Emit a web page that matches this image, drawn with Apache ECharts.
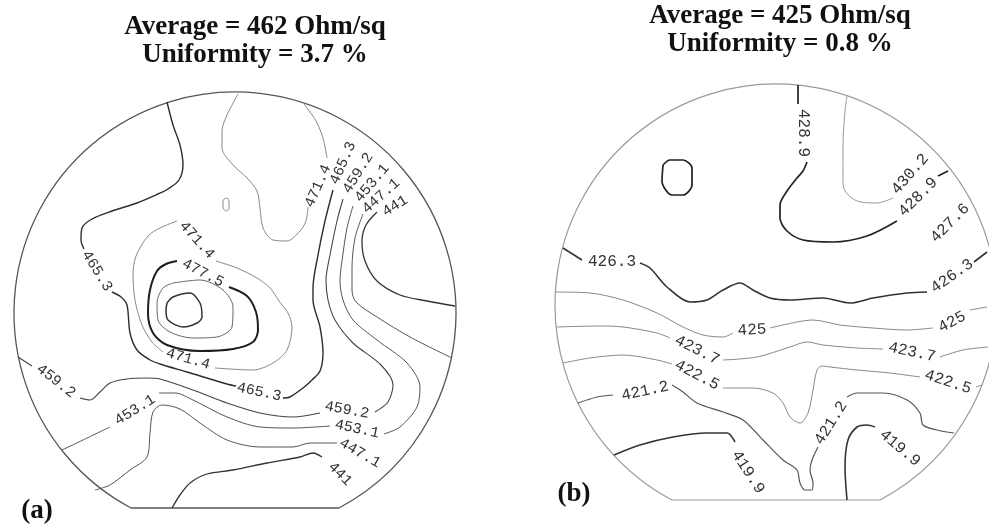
<!DOCTYPE html>
<html><head><meta charset="utf-8">
<script src="https://cdn.jsdelivr.net/npm/echarts@6/dist/echarts.min.js"></script>
<style>html,body{margin:0;padding:0;background:#fff}#c{width:989px;height:529px}</style>
</head><body><div id="c"></div>
<script>
// ---- text ----
const titlesA = ['Average = 462 Ohm/sq', 'Uniformity = 3.7 %'];
const titlesB = ['Average = 425 Ohm/sq', 'Uniformity = 0.8 %'];
const panelNames = ['(a)', '(b)'];

// ---- wafer outlines: [centerX, centerY, radius, flat offset] in map units ----
const waferA = [0, 0, 221, -195];
const waferB = [0, 0, 221, -195];

// ---- wafer (a): contour segments [level, [[x,y],...]] in map units (y up) ----
const contoursA = [
  ['465.3', [[-68,211],[-62,188],[-55,168],[-52,148],[-56,133],[-67,124],[-77,119],[-98,110],[-123,102],[-143,94],[-153,85],[-154,73],[-151,64]]],
  ['465.3', [[-123,21],[-114,16],[-108,8],[-105,-20],[-98,-37],[-85,-47],[-75,-51],[-48,-59],[-8,-71],[1,-73]]],
  ['465.3', [[48,-85],[55,-84],[68,-75],[77,-67],[85,-58],[88,-40],[85,-14],[78,13],[78,25],[83,58],[90,92],[98,123]]],
  ['471.4', [[69,209],[81,192],[88,175],[92,155]]],
  ['471.4', [[73,106],[71,92],[65,82],[52,72],[38,73],[28,85],[25,105],[22,122],[12,135],[-2,148],[-13,165],[-13,182],[-8,198],[3,219]]],
  ['471.4', [[-11,114],[-8,115],[-6,111],[-6,104],[-9,102],[-12,106],[-12,112],[-11,114]]],
  ['471.4', [[-19,52],[2,45],[22,35],[35,25],[44,12],[53,0],[57,-14],[52,-37],[38,-50],[18,-57],[-20,-55]]],
  ['471.4', [[-72,-39],[-83,-29],[-93,-12],[-100,13],[-102,38],[-99,57],[-87,77],[-75,85],[-58,92]]],
  ['477.5', [[-6,26],[12,17],[21,1],[23,-17],[18,-29],[-2,-36],[-35,-38],[-68,-32],[-82,-20],[-87,0],[-85,23],[-78,42],[-69,49],[-58,52]]],
  ['483.6', [[-62,30],[-35,33],[-12,23],[-2,6],[-3,-14],[-18,-24],[-42,-25],[-65,-19],[-77,-7],[-78,10],[-72,25],[-62,30]]],
  ['489.7', [[-68,10],[-62,16],[-45,20],[-35,10],[-33,-4],[-38,-10],[-52,-14],[-67,-7],[-69,3],[-68,10]]],
  ['459.2', [[-217,-44],[-203,-53]]],
  ['459.2', [[-155,-85],[-145,-87],[-135,-79],[-125,-70],[-108,-66],[-88,-65],[-75,-66],[-42,-77],[-8,-90],[25,-100],[58,-104],[85,-100]]],
  ['459.2', [[140,-99],[153,-89],[158,-72],[146,-52],[118,-30],[100,-7],[93,13],[91,33],[95,58],[102,92],[108,114]]],
  ['453.1', [[-173,-137],[-152,-127],[-125,-114]]],
  ['453.1', [[-76,-80],[-60,-80],[-42,-87],[-8,-104],[25,-114],[58,-115],[95,-113]]],
  ['453.1', [[149,-121],[165,-114],[182,-94],[185,-74],[172,-50],[142,-27],[118,-7],[108,13],[105,33],[107,52],[112,85],[118,107]]],
  ['447.1', [[128,99],[120,75],[117,45],[117,23],[121,11],[142,-4],[175,-24],[217,-45]]],
  ['447.1', [[-140,-177],[-125,-172],[-105,-157],[-88,-144],[-85,-120],[-82,-99],[-73,-92],[-55,-96],[-35,-110],[-8,-127],[25,-134],[58,-134],[75,-130],[102,-130]]],
  ['441', [[142,101],[131,88],[127,72],[130,52],[142,32],[165,18],[192,12],[220,7]]],
  ['441', [[-63,-195],[-55,-182],[-45,-170],[-28,-161],[-2,-157],[32,-150],[65,-144],[78,-140],[87,-144]]]
];
// contour labels: [text, x, y, angle]
const labelsA = [
  ['465.3',-138,42,-58], ['465.3',24,-79,-12], ['465.3',108,150,66],
  ['471.4',83,127,66], ['471.4',-38,73,-48], ['471.4',-47,-46,-16],
  ['477.5',-32,40,-28],
  ['459.2',-179,-68,-38], ['459.2',112,-97,-10], ['459.2',123,140,58],
  ['453.1',-100,-97,32], ['453.1',122,-116,-12], ['453.1',137,130,50],
  ['447.1',146,117,42], ['447.1',125,-140,-30],
  ['441',160,107,32], ['441',105,-161,-45]
];

// ---- wafer (b) ----
const contoursB = [
  ['428.9', [[22,220],[22,201]]],
  ['428.9', [[31,143],[27,134],[21,127],[11,114],[4,100],[4,87],[11,74],[27,65],[57,63],[91,69],[121,84]]],
  ['428.9', [[162,129],[172,134]]],
  ['428.9', [[-113,140],[-106,145],[-93,145],[-84,137],[-84,120],[-93,110],[-104,110],[-114,124],[-113,140]]],
  ['430.2', [[71,209],[69,194],[67,160],[67,127],[69,114],[81,104],[101,102],[117,107]]],
  ['426.3', [[-213,57],[-194,45]]],
  ['426.3', [[-136,42],[-126,37],[-109,18],[-86,3],[-69,5],[-53,15],[-36,22],[-23,15],[-6,7],[14,5],[47,7],[74,2],[97,7],[131,12],[151,13]]],
  ['426.3', [[198,43],[211,53]]],
  ['425', [[-220,13],[-186,12],[-153,5],[-119,-8],[-93,-22],[-73,-30],[-53,-32],[-43,-28]]],
  ['425', [[-6,-23],[21,-17],[37,-15],[64,-20],[97,-23],[131,-25],[157,-23]]],
  ['425', [[194,-5],[211,-2]]],
  ['423.7', [[-219,-22],[-176,-21],[-153,-22],[-119,-28],[-106,-33]]],
  ['423.7', [[-53,-55],[-19,-52],[14,-42],[31,-37],[47,-40],[81,-43],[107,-44]]],
  ['423.7', [[164,-52],[187,-45],[212,-42]]],
  ['422.5', [[-213,-58],[-186,-53],[-153,-50],[-119,-55],[-104,-59]]],
  ['422.5', [[-53,-83],[-23,-83],[-3,-88],[7,-98],[14,-112],[24,-118],[32,-108],[37,-85],[41,-65],[46,-61],[54,-62],[81,-65],[114,-68],[144,-72]]],
  ['422.5', [[200,-82],[206,-80]]],
  ['421.2', [[-198,-98],[-179,-92],[-163,-90]]],
  ['421.2', [[-104,-80],[-93,-87],[-79,-98],[-53,-107],[-33,-115],[-13,-135],[7,-155],[21,-165],[24,-178],[29,-185],[36,-185],[37,-178],[34,-165],[36,-155],[42,-142]]],
  ['421.2', [[71,-92],[81,-88],[107,-88],[131,-95],[144,-108],[147,-120],[161,-125],[178,-128]]],
  ['419.9', [[-162,-150],[-136,-140],[-103,-132],[-69,-128],[-49,-128],[-41,-137]]],
  ['419.9', [[71,-195],[69,-162],[72,-135],[81,-122],[91,-120],[99,-122]]]
];
const labelsB = [
  ['428.9',27,172,-90], ['428.9',142,108,45], ['430.2',134,131,49], ['427.6',174,82,45],
  ['426.3',-164,43,0], ['426.3',176,29,35],
  ['425',-24,-25,3], ['425',176,-17,28],
  ['423.7',-79,-45,-27], ['423.7',136,-47,-12],
  ['422.5',-79,-70,-28], ['422.5',172,-77,-18],
  ['421.2',-131,-86,12], ['421.2',55,-118,58],
  ['419.9',-28,-167,-57], ['419.9',124,-143,-40]
];

// ---- styles (kept apart from data) ----
const stylesA = {'441':['#333',1.3],'447.1':['#555',1],'453.1':['#555',1],'459.2':['#444',1.1],'465.3':['#2d2d2d',1.4],
  '471.4':['#888',1],'477.5':['#1e1e1e',2],'483.6':['#666',1],'489.7':['#333',1.5]};
const stylesB = {'419.9':['#333',1.6],'421.2':['#555',1.2],'422.5':['#888',1],'423.7':['#888',1],'425':['#888',1],
  '426.3':['#333',1.6],'428.9':['#222',1.7],'430.2':['#999',1]};

function lineSeries(list, styles, idx) {
  return list.map(function (c) {
    var s = styles[c[0]] || ['#555', 1];
    return {type:'line', xAxisIndex:idx, yAxisIndex:idx, data:c[1], symbol:'none', smooth:0.3,
      silent:true, animation:false, lineStyle:{color:s[0], width:s[1]}};
  });
}
function labelSeries(list, idx, size) {
  return {type:'scatter', xAxisIndex:idx, yAxisIndex:idx, symbolSize:1, silent:true, animation:false,
    itemStyle:{color:'rgba(0,0,0,0)'},
    labelLayout:{hideOverlap:false},
    label:{show:true, position:'inside', formatter:'{b}', color:'#333', opacity:1,
      fontFamily:'Liberation Mono', fontSize:size},
    data:list.map(function (l) { return {name:l[0], value:[l[1], l[2]], label:{rotate:l[3]}}; })};
}
function waferSeries(w, idx, color, width) {
  return {type:'custom', xAxisIndex:idx, yAxisIndex:idx, silent:true, animation:false, data:[w],
    renderItem:function (params, api) {
      var c = api.coord([api.value(0), api.value(1)]);
      var r = api.size([api.value(2), 0])[0];
      var f = api.coord([api.value(0), api.value(1) + api.value(3)])[1];
      var dy = f - c[1];
      var a = Math.asin(dy / r);
      var hw = Math.sqrt(r * r - dy * dy);
      return {type:'group', children:[
        {type:'arc', shape:{cx:c[0], cy:c[1], r:r, startAngle:Math.PI - a, endAngle:2 * Math.PI + a, clockwise:true},
          style:{stroke:color, fill:'none', lineWidth:width}},
        {type:'line', shape:{x1:c[0] - hw, y1:f, x2:c[0] + hw, y2:f}, style:{stroke:color, lineWidth:width}}
      ]};
    }};
}

var chart = echarts.init(document.getElementById('c'), null, {renderer:'canvas'});
var titleFont = 'bold 27px "Liberation Serif", "Times New Roman", serif';
function txt(t, x, y) {
  return {type:'text', x:x, y:y, style:{text:t, font:titleFont, fill:'#111', textAlign:'center', verticalAlign:'middle'}};
}
chart.setOption({
  backgroundColor:'#fff',
  animation:false,
  grid:[
    {left:0, top:83, width:490, height:440, show:false},
    {left:550, top:80, width:439, height:435, show:false}
  ],
  xAxis:[
    {type:'value', gridIndex:0, min:-235, max:255, show:false},
    {type:'value', gridIndex:1, min:-226, max:213, show:false}
  ],
  yAxis:[
    {type:'value', gridIndex:0, min:-210, max:230, show:false},
    {type:'value', gridIndex:1, min:-210, max:225, show:false}
  ],
  graphic:[
    txt(titlesA[0], 255, 27), txt(titlesA[1], 255, 55),
    txt(titlesB[0], 780, 16), txt(titlesB[1], 780, 44),
    txt(panelNames[0], 37, 511), txt(panelNames[1], 574, 494)
  ],
  series:[].concat(
    [waferSeries(waferA, 0, '#555', 1.3), waferSeries(waferB, 1, '#999', 1.2)],
    lineSeries(contoursA, stylesA, 0),
    lineSeries(contoursB, stylesB, 1),
    [labelSeries(labelsA, 0, 15), labelSeries(labelsB, 1, 16)]
  )
});
</script></body></html>
